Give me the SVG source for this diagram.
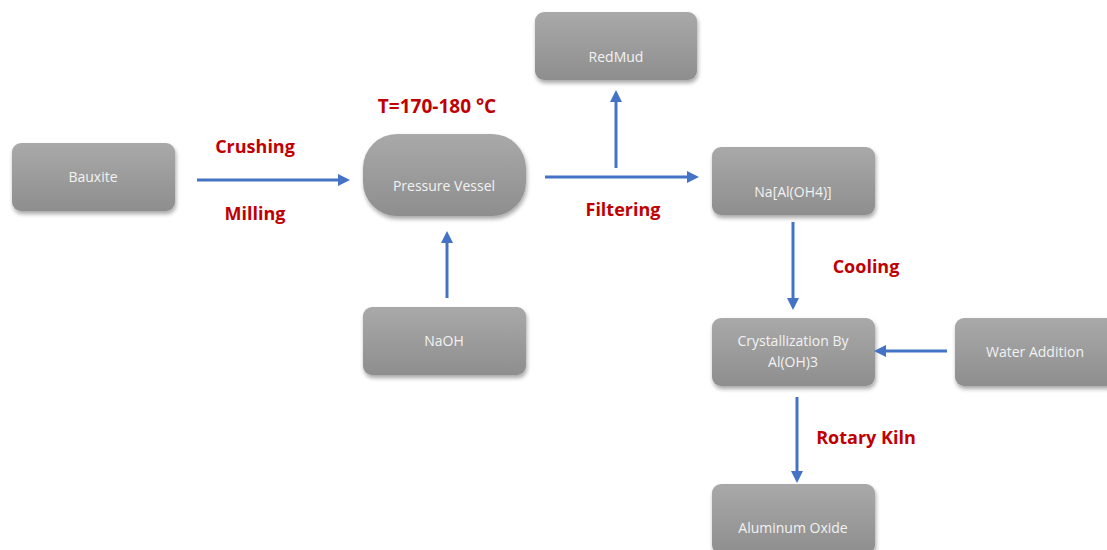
<svg xmlns="http://www.w3.org/2000/svg" width="1107" height="550" viewBox="0 0 1107 550">
<defs>
<linearGradient id="g" x1="0" y1="0" x2="0" y2="1">
<stop offset="0" stop-color="#a9a9a9"/>
<stop offset="1" stop-color="#8e8e8e"/>
</linearGradient>
<filter id="sh" x="-10%" y="-10%" width="125%" height="135%">
<feGaussianBlur in="SourceAlpha" stdDeviation="2"/>
<feOffset dx="1" dy="3" result="b"/>
<feComponentTransfer><feFuncA type="linear" slope="0.35"/></feComponentTransfer>
<feMerge><feMergeNode/><feMergeNode in="SourceGraphic"/></feMerge>
</filter>
<marker id="ah" markerWidth="12" markerHeight="12" refX="8" refY="6" orient="auto" markerUnits="userSpaceOnUse" viewBox="0 0 12 12">
<path d="M0,0 L12,6 L0,12 z" fill="#4472C4"/>
</marker>
</defs>
<style>
.n{fill:url(#g);filter:url(#sh)}
.t{font-family:"Open Sans","Liberation Sans",sans-serif;font-size:14px;fill:#f2f2f2;text-anchor:middle}
.l{font-family:"Open Sans","Liberation Sans",sans-serif;font-size:18px;font-weight:bold;fill:#C00000;text-anchor:middle}
.c{stroke:#4472C4;stroke-width:3;fill:none;marker-end:url(#ah)}
</style>
<rect width="1107" height="550" fill="#ffffff"/>
<g id="bauxite"><rect class="n" x="12" y="143" width="163" height="68" rx="9"/><text class="t" x="93" y="182">Bauxite</text></g>
<g id="pressure-vessel"><rect class="n" x="363" y="134" width="163" height="82" rx="34"/><text class="t" x="444" y="191">Pressure Vessel</text></g>
<g id="redmud"><rect class="n" x="535" y="12" width="162" height="68" rx="9"/><text class="t" x="616" y="62">RedMud</text></g>
<g id="naal"><rect class="n" x="712" y="147" width="163" height="68" rx="9"/><text class="t" x="793" y="197">Na[Al(OH4)]</text></g>
<g id="naoh"><rect class="n" x="363" y="307" width="163" height="68" rx="9"/><text class="t" x="444" y="346">NaOH</text></g>
<g id="crystallization"><rect class="n" x="712" y="318" width="163" height="68" rx="9"/><text class="t" x="793" y="346">Crystallization By</text><text class="t" x="793" y="367">Al(OH)3</text></g>
<g id="water"><rect class="n" x="955" y="318" width="160" height="68" rx="9"/><text class="t" x="1035" y="357">Water Addition</text></g>
<g id="alox"><rect class="n" x="712" y="484" width="163" height="70" rx="9"/><text class="t" x="793" y="533">Aluminum Oxide</text></g>
<g id="connectors">
<line class="c" x1="197" y1="180" x2="346" y2="180"/>
<line class="c" x1="447" y1="298" x2="447" y2="235"/>
<line class="c" x1="545" y1="177" x2="695" y2="177"/>
<line class="c" x1="616" y1="168" x2="616" y2="94"/>
<line class="c" x1="793" y1="222" x2="793" y2="306"/>
<line class="c" x1="947" y1="351" x2="878" y2="351"/>
<line class="c" x1="797" y1="397" x2="797" y2="479"/>
</g>
<g id="labels">
<text class="l" x="255" y="153">Crushing</text>
<text class="l" x="255" y="220">Milling</text>
<text class="l" x="437" y="113" style="font-size:19px">T=170-180 °C</text>
<text class="l" x="623" y="216">Filtering</text>
<text class="l" x="866" y="273">Cooling</text>
<text class="l" x="866" y="444">Rotary Kiln</text>
</g>
</svg>
